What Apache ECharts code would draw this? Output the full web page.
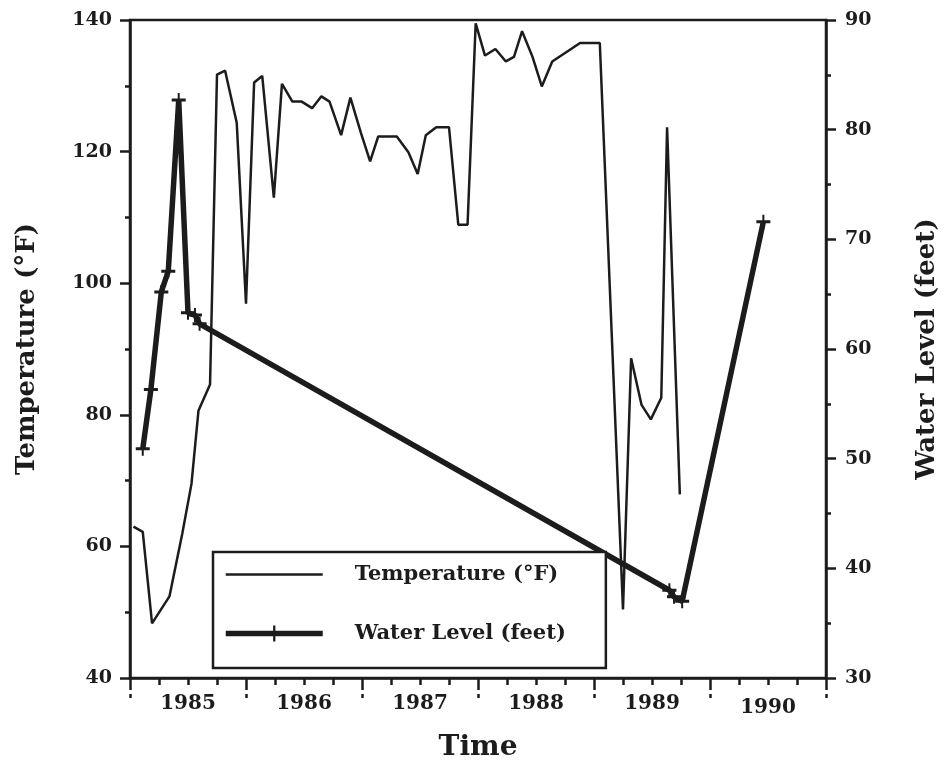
<!DOCTYPE html>
<html>
<head>
<meta charset="utf-8">
<title>Temperature and Water Level</title>
<script src="https://cdn.jsdelivr.net/npm/echarts@6/dist/echarts.min.js"></script>
<style>
  html, body { margin: 0; padding: 0; background: #fff; }
  #chart { width: 948px; height: 767px; }
</style>
</head>
<body>
<div id="chart"></div>
<script type="text/javascript">

  // x labels (one per yearly band)
  var yearLabels = ['1985', '1986', '1987', '1988', '1989', '1990'];

  // temperature (°F), x in decimal years
  var tempYears = [1985.03, 1985.11, 1985.19, 1985.34, 1985.45, 1985.53, 1985.59, 1985.69, 1985.75, 1985.82,
    1985.92, 1986.00, 1986.07, 1986.14, 1986.24, 1986.31, 1986.40, 1986.48, 1986.57, 1986.65,
    1986.72, 1986.82, 1986.90, 1986.99, 1987.07, 1987.14, 1987.30, 1987.40, 1987.48, 1987.55,
    1987.64, 1987.75, 1987.83, 1987.91, 1987.98, 1988.06, 1988.15, 1988.24, 1988.31, 1988.38,
    1988.47, 1988.55, 1988.64, 1988.88, 1989.05, 1989.25, 1989.32, 1989.41, 1989.49, 1989.58,
    1989.63, 1989.74];
  var tempValues = [63.0, 62.2, 48.3, 52.4, 61.9, 69.5, 80.6, 84.6, 131.7, 132.3,
    124.4, 96.9, 130.5, 131.5, 113.0, 130.3, 127.6, 127.6, 126.6, 128.4,
    127.6, 122.5, 128.2, 122.9, 118.5, 122.3, 122.3, 119.9, 116.6, 122.5,
    123.7, 123.7, 108.9, 108.9, 139.5, 134.6, 135.6, 133.7, 134.4, 138.3,
    134.4, 129.9, 133.7, 136.5, 136.5, 50.4, 88.6, 81.5, 79.3, 82.6,
    123.7, 67.9];

  // water level (feet)
  var waterYears = [1985.11, 1985.18, 1985.27, 1985.33, 1985.42, 1985.50, 1985.56, 1985.60,
    1989.65, 1989.69, 1989.76, 1990.46];
  var waterValues = [50.9, 56.3, 65.2, 67.1, 82.7, 63.3, 63.1, 62.3,
    38.0, 37.4, 37.0, 71.6];

  var ink = '#1c1c1c';
  var serif = 'DejaVu Serif';
  var crossPath = 'path://M0,5.5 H6 V0 H8 V5.5 H14 V8.5 H8 V14 H6 V8.5 H0 Z';

  var tempData = [];
  for (var i = 0; i < tempYears.length; i++) {
    tempData.push([tempYears[i], tempValues[i]]);
  }
  var waterData = [];
  for (var j = 0; j < waterYears.length; j++) {
    waterData.push([waterYears[j], waterValues[j]]);
  }

  var myChart = echarts.init(document.getElementById('chart'));

  var option = {
    backgroundColor: '#fff',
    animation: false,
    grid: {
      left: 130,
      right: 117,
      top: 20,
      bottom: 85,
      show: true,
      borderColor: ink,
      borderWidth: 2.5
    },
    legend: {
      orient: 'vertical',
      left: 213,
      top: 552,
      data: [
        {
          name: 'Temperature (°F)',
          lineStyle: { width: 2.5 },
          itemStyle: { color: 'rgba(0,0,0,0)', borderColor: 'rgba(0,0,0,0)', borderWidth: 0 }
        },
        { name: 'Water Level (feet)', lineStyle: { width: 5.5 } }
      ],
      itemWidth: 97,
      itemHeight: 20,
      itemGap: 38,
      padding: [12, 40, 24, 10],
      borderColor: ink,
      borderWidth: 2.5,
      backgroundColor: '#fff',
      textStyle: {
        color: ink,
        fontFamily: serif,
        fontWeight: 'bold',
        fontSize: 21,
        padding: [0, 0, 0, 27]
      }
    },
    xAxis: [{
      type: 'value',
      min: 1985,
      max: 1991,
      interval: 1,
      axisLine: { show: true, lineStyle: { color: ink, width: 2.5 } },
      axisTick: { show: true, length: 12, lineStyle: { color: ink, width: 2.5 } },
      minorTick: { show: true, splitNumber: 4, length: 7, lineStyle: { color: ink, width: 2.5 } },
      axisLabel: { show: false },
      splitLine: { show: false },
      name: 'Time',
      nameLocation: 'middle',
      nameGap: 56,
      nameTextStyle: { color: ink, fontFamily: serif, fontWeight: 'bold', fontSize: 28 }
    }, {
      type: 'category',
      position: 'bottom',
      data: yearLabels,
      boundaryGap: true,
      axisLine: { show: false },
      axisTick: { show: false },
      splitLine: { show: false },
      axisLabel: {
        interval: 0,
        margin: 16,
        color: ink,
        fontFamily: serif,
        fontWeight: 'bold',
        fontSize: 20,
        formatter: function (v) {
          return v === '1990' ? '{low|' + v + '}' : v;
        },
        rich: {
          low: { padding: [4, 0, 0, 0], color: ink, fontFamily: serif, fontWeight: 'bold', fontSize: 20 }
        }
      }
    }, {
      // small marks under the major ticks, in the label row
      type: 'value',
      position: 'bottom',
      min: 1985,
      max: 1991,
      interval: 1,
      offset: 16,
      axisLine: { show: false },
      axisTick: { show: true, length: 4, lineStyle: { color: ink, width: 2.5 } },
      axisLabel: { show: false },
      splitLine: { show: false }
    }],
    yAxis: [{
      type: 'value',
      min: 40,
      max: 140,
      interval: 20,
      position: 'left',
      axisLine: { show: true, lineStyle: { color: ink, width: 2.5 } },
      axisTick: { show: true, length: 10, lineStyle: { color: ink, width: 2.5 } },
      minorTick: { show: true, splitNumber: 2, length: 5, lineStyle: { color: ink, width: 2.5 } },
      axisLabel: { margin: 18, color: ink, fontFamily: serif, fontWeight: 'bold', fontSize: 19 },
      splitLine: { show: false },
      name: 'Temperature (°F)',
      nameLocation: 'middle',
      nameGap: 90,
      nameTextStyle: { color: ink, fontFamily: serif, fontWeight: 'bold', fontSize: 26 }
    }, {
      type: 'value',
      min: 30,
      max: 90,
      interval: 10,
      position: 'right',
      axisLine: { show: true, lineStyle: { color: ink, width: 2.5 } },
      axisTick: { show: true, length: 10, lineStyle: { color: ink, width: 2.5 } },
      minorTick: { show: true, splitNumber: 2, length: 5, lineStyle: { color: ink, width: 2.5 } },
      axisLabel: { margin: 19, color: ink, fontFamily: serif, fontWeight: 'bold', fontSize: 19 },
      splitLine: { show: false },
      name: 'Water Level (feet)',
      nameLocation: 'middle',
      nameGap: 88,
      nameRotate: 90,
      nameTextStyle: { color: ink, fontFamily: serif, fontWeight: 'bold', fontSize: 26 }
    }],
    series: [{
      type: 'line',
      name: 'Temperature (°F)',
      xAxisIndex: 0,
      yAxisIndex: 0,
      data: tempData,
      symbol: 'none',
      showSymbol: false,
      lineStyle: { color: ink, width: 2.5 },
      itemStyle: { color: ink }
    }, {
      type: 'line',
      name: 'Water Level (feet)',
      xAxisIndex: 0,
      yAxisIndex: 1,
      data: waterData,
      symbol: crossPath,
      symbolSize: [14, 14],
      lineStyle: { color: ink, width: 5.5 },
      itemStyle: { color: ink }
    }]
  };

  myChart.setOption(option);

</script>
</body>
</html>
